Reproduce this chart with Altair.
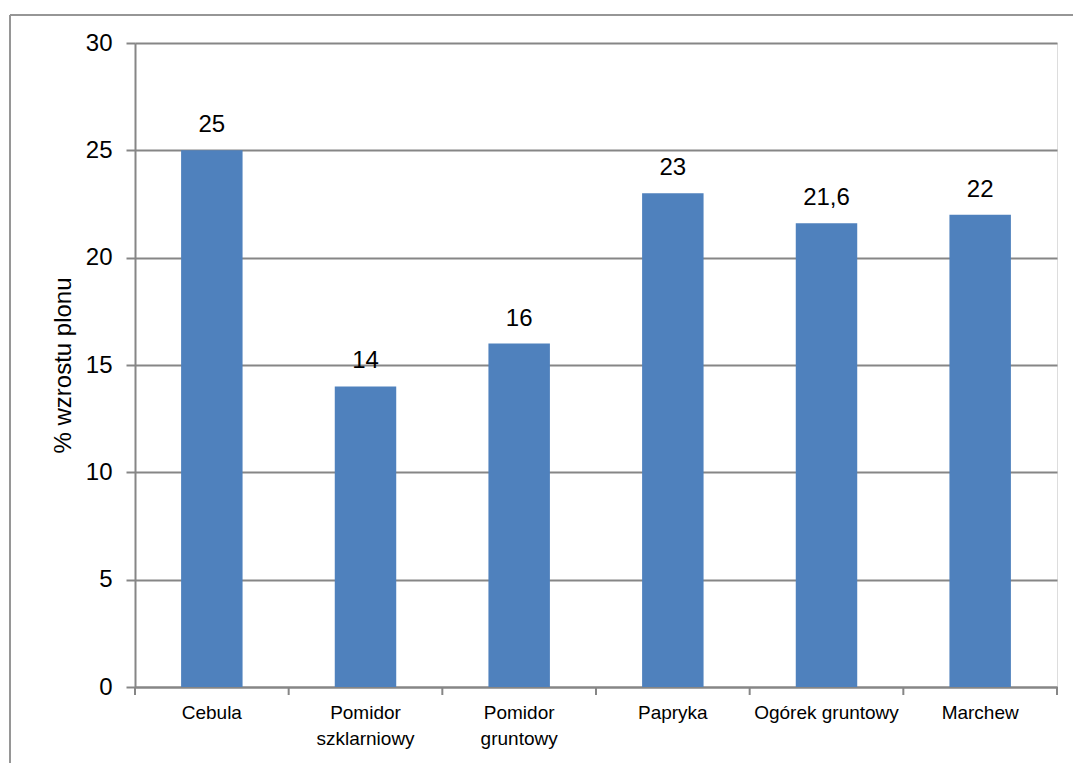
import altair as alt
import pandas as pd

categories = ["Cebula", "Pomidor|szklarniowy", "Pomidor|gruntowy", "Papryka", "Ogórek gruntowy", "Marchew"]
values = [25, 14, 16, 23, 21.6, 22]
value_labels = ["25", "14", "16", "23", "21,6", "22"]

df = pd.DataFrame({"cat": categories, "val": values, "lab": value_labels})

FONT = "Liberation Sans"
GRAY = "#868686"
W, H = 922, 644
LEFT, TOP = 135, 43
RIGHT = 1073 - LEFT - W
BOTTOM = 763 - TOP - H
P_IN, P_OUT = 0.6, 0.3
STEP = W / (len(categories) - P_IN + 2 * P_OUT)
HALF_GAP = P_OUT * STEP

xaxis = alt.Axis(labelExpr="split(datum.label, '|')", labelAngle=0,
                 labelFont=FONT, labelFontSize=19, labelColor="#000000",
                 labelPadding=16, labelLineHeight=26, ticks=False,
                 domainColor=GRAY, domainWidth=2,
                 grid=False, labelBaseline="top")
xscale = alt.Scale(paddingInner=P_IN, paddingOuter=P_OUT)
x = alt.X("cat:N", sort=categories, title=None, scale=xscale, axis=xaxis)
y = alt.Y("val:Q", title="% wzrostu plonu",
          scale=alt.Scale(domain=[0, 30], nice=False),
          axis=alt.Axis(values=[0, 5, 10, 15, 20, 25, 30], labelFont=FONT, labelFontSize=24,
                        labelColor="#000000", labelPadding=14, tickSize=9,
                        tickColor=GRAY, domainColor=GRAY, domainWidth=2, tickWidth=2,
                        gridColor=GRAY, gridWidth=2, titleFont=FONT, titleFontSize=24,
                        titleFontWeight="normal", titleColor="#000000", titlePadding=10))

bars = alt.Chart(df).mark_bar(color="#4F81BD").encode(x=x, y=y)
texts = alt.Chart(df).mark_text(font=FONT, fontSize=24, color="#000000", baseline="alphabetic", dy=-18).encode(
    x=alt.X("cat:N", sort=categories, title=None, scale=xscale, axis=xaxis), y="val:Q", text="lab:N")

# category boundary ticks (Excel style)
ticks_start = alt.Chart(df).mark_rule(color=GRAY, strokeWidth=2, xOffset=-HALF_GAP).encode(
    x=alt.X("cat:N", sort=categories, title=None, scale=xscale, axis=xaxis, bandPosition=0),
    y=alt.value(H), y2=alt.value(H + 8))
ticks_end = alt.Chart(df.iloc[[-1]]).mark_rule(color=GRAY, strokeWidth=2, xOffset=HALF_GAP).encode(
    x=alt.X("cat:N", sort=categories, title=None, scale=xscale, axis=xaxis, bandPosition=1),
    y=alt.value(H), y2=alt.value(H + 8))

frame_top = alt.Chart(df).mark_rule(color="#969696", strokeWidth=2).encode(
    x=alt.value(-125), x2=alt.value(W + 40), y=alt.value(-28))
frame_left = alt.Chart(df).mark_rule(color="#969696", strokeWidth=2).encode(
    x=alt.value(-125), y=alt.value(-28), y2=alt.value(H + 80))

chart = alt.layer(frame_top, frame_left, bars, ticks_start, ticks_end, texts).properties(
    width=W, height=H,
    autosize=alt.AutoSizeParams(type="none"),
    padding={"left": LEFT, "top": TOP, "right": RIGHT, "bottom": BOTTOM},
).configure_view(stroke=None).configure(background="#ffffff")

chart.save("out.html", embed_options={"renderer": "svg", "actions": False})
